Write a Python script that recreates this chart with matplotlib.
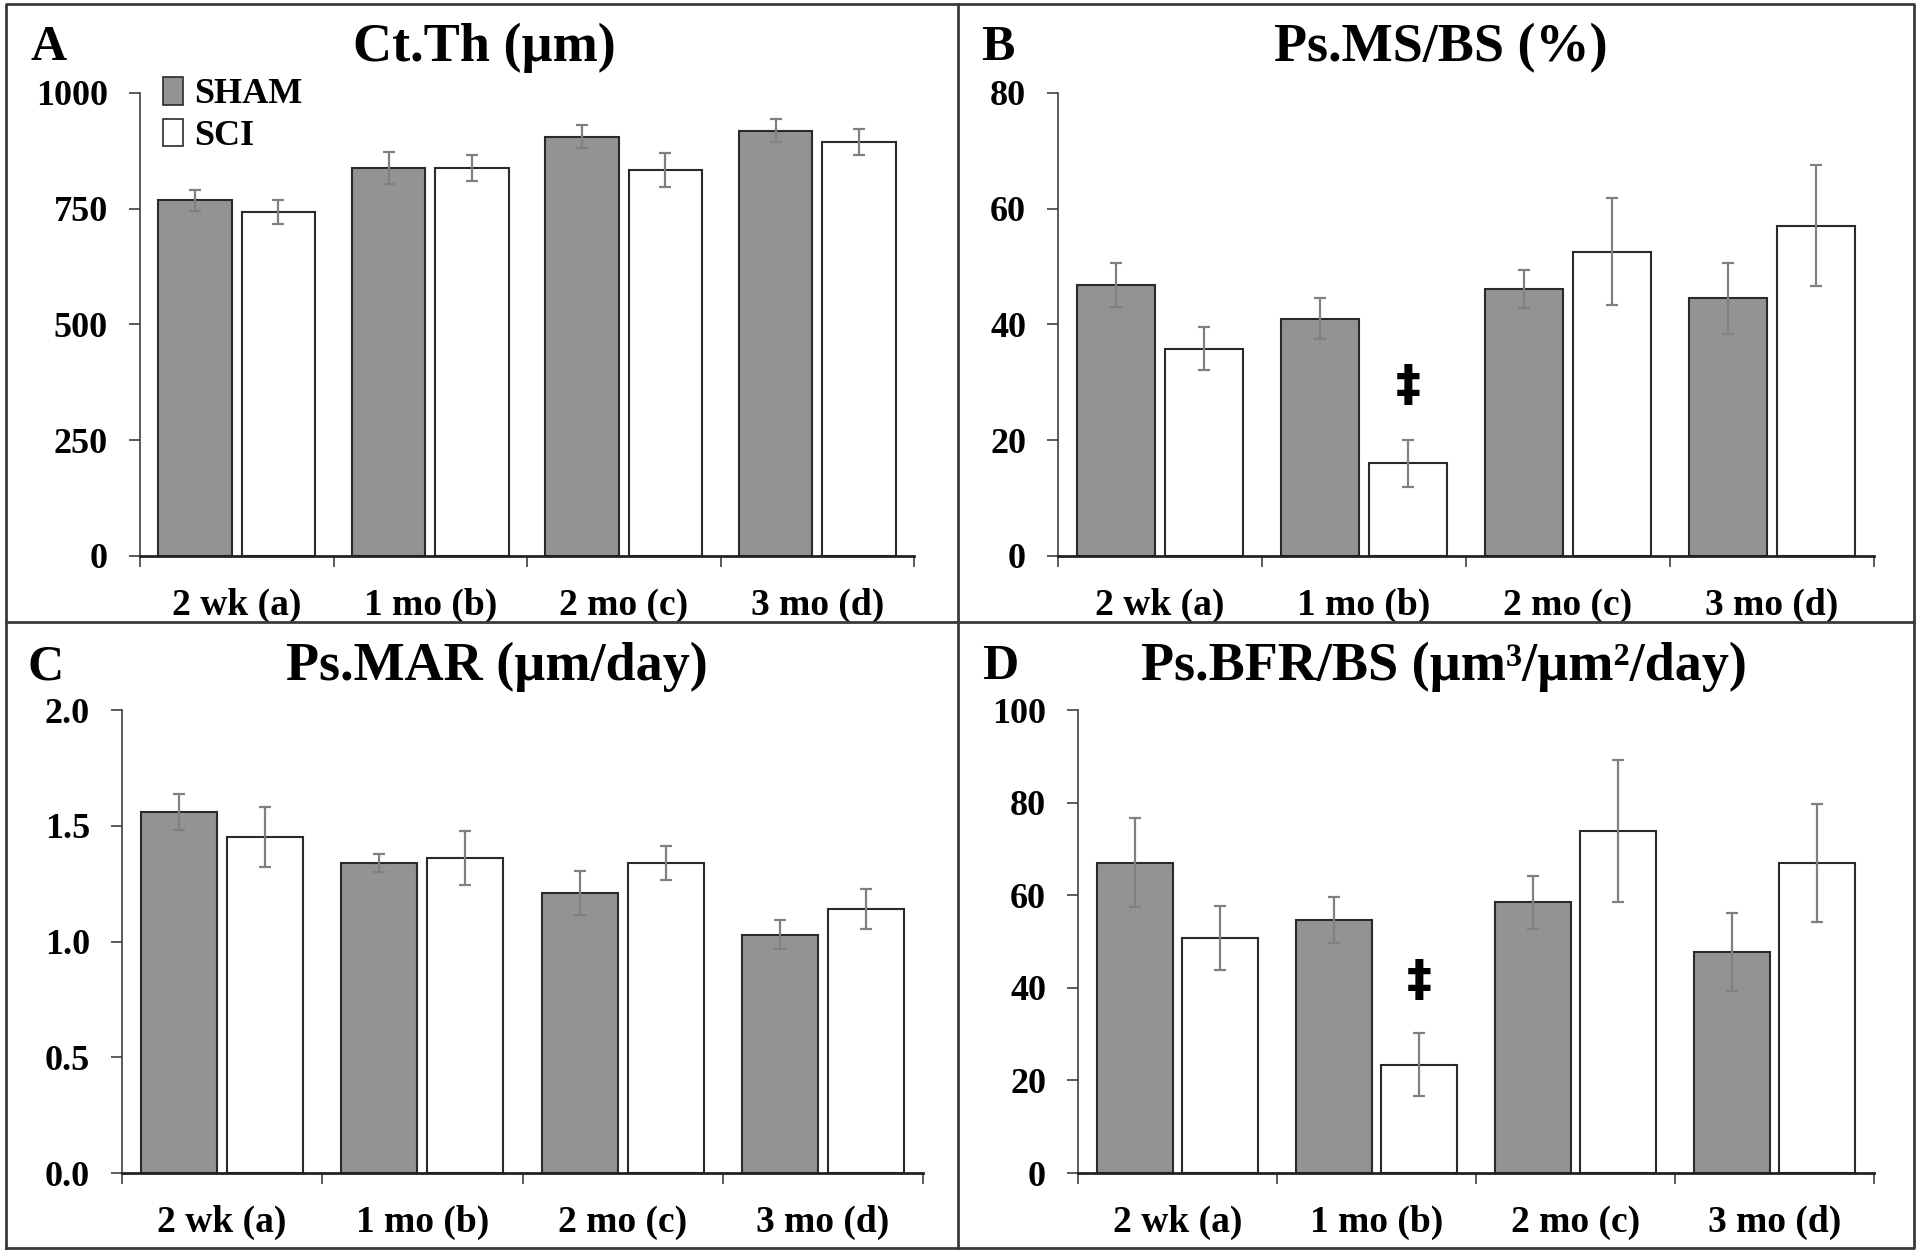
import matplotlib
matplotlib.use("Agg")
import matplotlib.pyplot as plt
import numpy as np
from matplotlib.lines import Line2D
from matplotlib.patches import Patch

plt.rcParams['font.family'] = ['Liberation Serif', 'DejaVu Serif']
plt.rcParams['font.weight'] = 'bold'

categories = ["2 wk (a)", "1 mo (b)", "2 mo (c)", "3 mo (d)"]
groups = ["SHAM", "SCI"]

# A: Ct.Th (um)
ctth_sham = [768, 838, 906, 919]
ctth_sham_err = [23, 34, 25, 25]
ctth_sci = [743, 838, 834, 894]
ctth_sci_err = [26, 28, 37, 28]

# B: Ps.MS/BS (%)
msbs_sham = [46.8, 41.0, 46.2, 44.5]
msbs_sham_err = [3.8, 3.5, 3.3, 6.2]
msbs_sci = [35.8, 16.0, 52.6, 57.1]
msbs_sci_err = [3.7, 4.1, 9.3, 10.5]

# C: Ps.MAR (um/day)
mar_sham = [1.56, 1.34, 1.21, 1.03]
mar_sham_err = [0.078, 0.04, 0.095, 0.063]
mar_sci = [1.45, 1.36, 1.34, 1.14]
mar_sci_err = [0.13, 0.117, 0.073, 0.086]

# D: Ps.BFR/BS
bfr_sham = [67.0, 54.6, 58.5, 47.8]
bfr_sham_err = [9.6, 5.0, 5.7, 8.4]
bfr_sci = [50.8, 23.4, 73.9, 67.0]
bfr_sci_err = [6.9, 6.8, 15.3, 12.8]

# significance marks (category index, y value)
msbs_mark = (1, 29.4)
bfr_mark = (1, 41.5)

W, H = 1920, 1254
fig = plt.figure(figsize=(W / 100, H / 100), dpi=100)


def px_rect(left, right, top, bottom):
    return [left / W, 1 - bottom / H, (right - left) / W, (bottom - top) / H]


sham_color = "#939393"
edge_color = "#2a2a2a"
err_color = "#808080"


def panel(rect, sham, sham_err, sci, sci_err, yticks, fmt, mark=None):
    ax = fig.add_axes(rect)
    x = np.arange(len(categories))
    off, w = 0.215, 0.38
    ax.bar(x - off, sham, w, color=sham_color, edgecolor=edge_color, linewidth=1.5, zorder=2)
    ax.bar(x + off, sci, w, color="white", edgecolor=edge_color, linewidth=1.5, zorder=2)
    ax.errorbar(x - off, sham, yerr=sham_err, fmt="none", ecolor=err_color,
                elinewidth=1.6, capsize=4, capthick=1.6, zorder=3)
    ax.errorbar(x + off, sci, yerr=sci_err, fmt="none", ecolor=err_color,
                elinewidth=1.6, capsize=4, capthick=1.6, zorder=3)
    ax.set_xlim(-0.5, len(categories) - 0.5)
    ax.set_ylim(yticks[0], yticks[-1])
    ax.set_yticks(yticks)
    ax.set_yticklabels([fmt.format(v) for v in yticks])
    ax.set_xticks(x)
    ax.set_xticklabels(categories)
    ax.set_xticks(np.arange(-0.5, len(categories)), minor=True)
    ax.tick_params(axis="x", which="major", length=0, pad=23, labelsize=27)
    ax.tick_params(axis="x", which="minor", length=8, width=1.2, color="#404040")
    ax.tick_params(axis="y", length=8, width=1.2, color="#404040", pad=15, labelsize=26)
    for lab in ax.get_xticklabels() + ax.get_yticklabels():
        lab.set_fontweight("bold")
    ax.spines["top"].set_visible(False)
    ax.spines["right"].set_visible(False)
    ax.spines["left"].set_color("#404040")
    ax.spines["left"].set_linewidth(1.2)
    ax.spines["bottom"].set_color("#222222")
    ax.spines["bottom"].set_linewidth(2)
    ax.patch.set_alpha(0)
    if mark is not None:
        ax.text(mark[0] + off, mark[1], "\u2021", ha="center", va="center",
                fontsize=36, fontweight="bold", family=["DejaVu Sans"])
    return ax


axA = panel(px_rect(140, 914, 93, 556), ctth_sham, ctth_sham_err, ctth_sci, ctth_sci_err,
            [0, 250, 500, 750, 1000], "{:.0f}")
axB = panel(px_rect(1058, 1874, 93, 556), msbs_sham, msbs_sham_err, msbs_sci, msbs_sci_err,
            [0, 20, 40, 60, 80], "{:.0f}", msbs_mark)
axC = panel(px_rect(122, 923, 710, 1173), mar_sham, mar_sham_err, mar_sci, mar_sci_err,
            [0.0, 0.5, 1.0, 1.5, 2.0], "{:.1f}")
axD = panel(px_rect(1078, 1874, 710, 1173), bfr_sham, bfr_sham_err, bfr_sci, bfr_sci_err,
            [0, 20, 40, 60, 80, 100], "{:.0f}", bfr_mark)

handles = [Patch(facecolor=sham_color, edgecolor=edge_color, linewidth=1.2),
           Patch(facecolor="white", edgecolor=edge_color, linewidth=1.2)]
axA.legend(handles, groups, loc="upper left", bbox_to_anchor=(163 / W, 1 - 77 / H),
           bbox_transform=fig.transFigure, frameon=False,
           handlelength=0.55, handleheight=0.8, handletextpad=0.3,
           labelspacing=0.2, borderpad=0, borderaxespad=0,
           prop={"weight": "bold", "size": 26})

# titles and panel letters
titles = ["Ct.Th (\u00b5m)", "Ps.MS/BS (%)", "Ps.MAR (\u00b5m/day)",
          "Ps.BFR/BS (\u00b5m\u00b3/\u00b5m\u00b2/day)"]
letters = ["A", "B", "C", "D"]
title_xy = [(484, 48), (1441, 48), (497, 667), (1444, 667)]
letter_xy = [(49, 48), (998, 48), (46, 667), (1000, 667)]
for t, (tx, ty) in zip(titles, title_xy):
    fig.text(tx / W, 1 - ty / H, t, ha="center", va="center", fontsize=39, fontweight="bold")
for l, (lx, ly) in zip(letters, letter_xy):
    fig.text(lx / W, 1 - ly / H, l, ha="center", va="center", fontsize=36, fontweight="bold")

# panel frame
frame = dict(color="#3a3a3a", linewidth=2, transform=fig.transFigure)
L, R, T, B = 6 / W, 1914 / W, 1 - 4 / H, 1 - 1248 / H
fig.add_artist(Line2D([L, R, R, L, L], [B, B, T, T, B], **frame))
fig.add_artist(Line2D([958 / W, 958 / W], [B, T], **frame))
fig.add_artist(Line2D([L, R], [1 - 622 / H, 1 - 622 / H], **frame))

fig.savefig("out.png", dpi=100, facecolor="white")
